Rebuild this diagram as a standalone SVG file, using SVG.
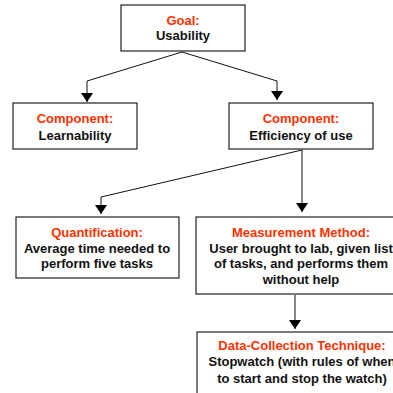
<svg xmlns="http://www.w3.org/2000/svg" width="393" height="393" viewBox="0 0 393 393">
<style>
.box{fill:#fff;stroke:#222;stroke-width:1.2}
text{font-family:"Liberation Sans",Arial,sans-serif;font-weight:bold;font-size:13px;text-anchor:middle;fill:#111}
.h{fill:#ff3300}
.c{fill:none;stroke:#111;stroke-width:1}
</style>
<defs>
<marker id="ah" markerWidth="9" markerHeight="12" refX="9" refY="6" orient="auto" markerUnits="userSpaceOnUse">
<path d="M0,0 L9,6 L0,12 Z" fill="#000"/>
</marker>
</defs>
<rect width="393" height="393" fill="#fff"/>
<g id="connectors">
<polyline class="c" points="182,52 87,81 87,102" marker-end="url(#ah)"/>
<polyline class="c" points="182,52 277,81 277,100" marker-end="url(#ah)"/>
<polyline class="c" points="302,150 101,197 101,214" marker-end="url(#ah)"/>
<polyline class="c" points="302,150 302,212" marker-end="url(#ah)"/>
<polyline class="c" points="295,295 295,329" marker-end="url(#ah)"/>
</g>
<g id="goal">
<rect class="box" x="121" y="5" width="124" height="46"/>
<text class="h" x="183" y="25">Goal:</text>
<text x="183" y="40">Usability</text>
</g>
<g id="learnability">
<rect class="box" x="13" y="103" width="124" height="46"/>
<text class="h" x="75" y="123">Component:</text>
<text x="75" y="140">Learnability</text>
</g>
<g id="efficiency">
<rect class="box" x="229" y="103" width="144" height="46"/>
<text class="h" x="301" y="123">Component:</text>
<text x="301" y="140">Efficiency of use</text>
</g>
<g id="quantification">
<rect class="box" x="16" y="217" width="163" height="61"/>
<text class="h" x="97" y="237">Quantification:</text>
<text x="97" y="253">Average time needed to</text>
<text x="97" y="268">perform five tasks</text>
</g>
<g id="measurement">
<rect class="box" x="196" y="217" width="210" height="77"/>
<text class="h" x="301" y="237">Measurement Method:</text>
<text x="301" y="253">User brought to lab, given list</text>
<text x="301" y="268">of tasks, and performs them</text>
<text x="301" y="284">without help</text>
</g>
<g id="datacollection">
<rect class="box" x="197" y="332" width="210" height="70"/>
<text class="h" x="302" y="350">Data-Collection Technique:</text>
<text x="302" y="366">Stopwatch (with rules of when</text>
<text x="302" y="383">to start and stop the watch)</text>
</g>
</svg>
